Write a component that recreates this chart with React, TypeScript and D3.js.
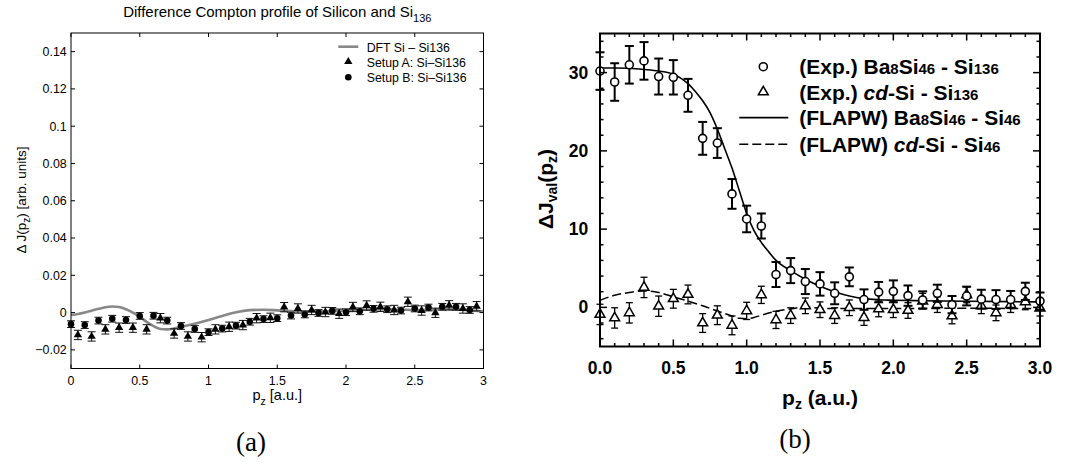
import React from 'react';
import * as d3 from 'd3';

// ---------- Panel (a) data ----------
const aTitle = 'Difference Compton profile of Silicon and Si';
const aXTicks = [0, 0.5, 1, 1.5, 2, 2.5, 3];
const aXTickLabels = ['0', '0.5', '1', '1.5', '2', '2.5', '3'];
const aYTicks = [-0.02, 0, 0.02, 0.04, 0.06, 0.08, 0.1, 0.12, 0.14];
const aYTickLabels = ['\u22120.02', '0', '0.02', '0.04', '0.06', '0.08', '0.1', '0.12', '0.14'];

const aSetupBP = [0, 0.1, 0.2, 0.3, 0.4, 0.5, 0.6, 0.7, 0.8, 0.9, 1.0, 1.1, 1.2, 1.3, 1.4, 1.5, 1.6, 1.7, 1.8, 1.9, 2.0, 2.1, 2.2, 2.3, 2.4, 2.5, 2.6, 2.7, 2.8, 2.9];
const aSetupBV = [-0.0062, -0.0067, -0.0043, -0.0033, -0.004, -0.0018, -0.0017, -0.0043, -0.0072, -0.0088, -0.0105, -0.0086, -0.007, -0.0049, -0.0035, -0.003, -0.0016, -0.001, -0.0002, 0.0009, 0.0002, 0.0007, 0.002, 0.0018, 0.0011, 0.0022, 0.0027, 0.0031, 0.0031, 0.0014];
const aSetupBErr = 0.0018;

const aSetupAP = [0.05, 0.15, 0.25, 0.35, 0.45, 0.55, 0.65, 0.75, 0.85, 0.95, 1.05, 1.15, 1.25, 1.35, 1.45, 1.55, 1.65, 1.75, 1.85, 1.95, 2.05, 2.15, 2.25, 2.35, 2.45, 2.55, 2.65, 2.75, 2.85, 2.95];
const aSetupAV = [-0.012, -0.0128, -0.009, -0.0081, -0.0081, -0.009, -0.003, -0.0112, -0.0128, -0.0132, -0.009, -0.0076, -0.0067, -0.003, -0.0028, 0.0029, 0.0022, 0.0014, 0.0003, -0.0006, 0.003, 0.0038, 0.0031, 0.0014, 0.0058, 0.0011, -0.0001, 0.0039, 0.0022, 0.0034];
const aSetupAErr = 0.0025;

const aDftP = [0, 0.05, 0.1, 0.15, 0.2, 0.25, 0.3, 0.35, 0.4, 0.45, 0.5, 0.55, 0.6, 0.65, 0.7, 0.75, 0.8, 0.9, 1.0, 1.1, 1.2, 1.3, 1.4, 1.5, 1.6, 1.7, 1.8, 1.9, 2.0, 2.1, 2.2, 2.3, 2.4, 2.5, 2.6, 2.7, 2.8, 2.9, 3.0];
const aDftV = [-0.0013, -0.0008, 0.0, 0.001, 0.002, 0.0029, 0.0033, 0.003, 0.0018, 0.0, -0.0022, -0.005, -0.0073, -0.0088, -0.009, -0.0085, -0.0077, -0.006, -0.004, -0.0018, 0.0002, 0.0013, 0.0015, 0.0012, 0.0008, 0.0006, 0.0007, 0.0008, 0.0011, 0.0014, 0.0017, 0.0018, 0.0016, 0.0014, 0.0015, 0.0018, 0.0017, 0.0012, 0.0006];

// ---------- Panel (b) data ----------
const bXTicks = [0, 0.5, 1, 1.5, 2, 2.5, 3];
const bXTickLabels = ['0.0', '0.5', '1.0', '1.5', '2.0', '2.5', '3.0'];
const bYTicks = [0, 10, 20, 30];
const bYTickLabels = ['0', '10', '20', '30'];

const bP = [0, 0.1, 0.2, 0.3, 0.4, 0.5, 0.6, 0.7, 0.8, 0.9, 1.0, 1.1, 1.2, 1.3, 1.4, 1.5, 1.6, 1.7, 1.8, 1.9, 2.0, 2.1, 2.2, 2.3, 2.4, 2.5, 2.6, 2.7, 2.8, 2.9, 3.0];
const bBaV = [30.2, 28.8, 31.0, 31.5, 29.5, 29.4, 27.1, 21.6, 21.0, 14.5, 11.3, 10.4, 4.2, 4.7, 3.3, 3.0, 1.8, 3.9, 1.0, 1.95, 2.05, 1.5, 0.95, 1.8, 0.35, 1.45, 1.05, 1.0, 1.0, 2.05, 0.8];
const bBaErr = [2.4, 2.4, 2.4, 2.4, 2.3, 2.2, 2.1, 2.1, 1.9, 1.9, 1.7, 1.6, 1.6, 1.6, 1.6, 1.5, 1.4, 1.2, 1.3, 1.3, 1.4, 1.3, 1.1, 1.1, 1.1, 1.2, 1.2, 1.2, 1.1, 1.1, 1.1];
const bCdV = [-0.9, -1.35, -0.7, 2.55, 0.15, 1.1, 1.65, -2.0, -1.0, -2.3, -0.45, 1.6, -1.6, -1.05, 0.2, -0.3, -1.05, -0.05, -1.3, -0.2, -0.3, -0.4, 0.8, 0.35, -1.1, 1.6, 0.2, -0.7, 0.35, 0.7, -0.1];
const bCdErr = [1.3, 1.3, 1.3, 1.3, 1.3, 1.2, 1.2, 1.2, 1.2, 1.2, 1.1, 1.1, 1.1, 1.0, 1.0, 1.0, 1.0, 1.0, 1.0, 1.0, 1.0, 1.0, 1.0, 1.0, 1.0, 1.0, 1.0, 1.0, 1.0, 1.0, 1.0];

const bBaFlapwP = [0, 0.1, 0.2, 0.3, 0.4, 0.5, 0.55, 0.6, 0.65, 0.7, 0.75, 0.8, 0.85, 0.9, 0.95, 1.0, 1.05, 1.1, 1.15, 1.2, 1.3, 1.4, 1.5, 1.6, 1.7, 1.8, 1.9, 2.0, 2.2, 2.5, 2.8, 3.0];
const bBaFlapwV = [30.6, 30.6, 30.55, 30.4, 30.2, 29.8, 29.3, 28.6, 27.6, 26.4, 24.9, 22.8, 20.3, 17.8, 14.9, 12.0, 9.8, 8.3, 7.1, 6.0, 4.7, 3.6, 2.7, 2.0, 1.45, 1.12, 0.98, 0.92, 0.85, 0.78, 0.73, 0.7];
const bCdFlapwP = [0, 0.1, 0.2, 0.3, 0.4, 0.5, 0.6, 0.7, 0.8, 0.9, 0.95, 1.0, 1.05, 1.1, 1.2, 1.3, 1.4, 1.5, 1.6, 1.8, 2.0, 2.5, 3.0];
const bCdFlapwV = [0.9, 1.55, 1.9, 2.1, 1.9, 1.35, 0.8, 0.2, -0.47, -1.1, -1.4, -1.45, -1.3, -1.0, -0.5, -0.2, 0.05, -0.1, -0.15, -0.15, -0.15, -0.12, -0.15];

const SANS = 'Liberation Sans, Arial, Helvetica, sans-serif';
const SERIF = 'Liberation Serif, Times New Roman, serif';

const A = { left: 71, right: 483.5, top: 33, bottom: 368.5 };
const B = { left: 600, right: 1040, top: 33.5, bottom: 346.5 };

export default function App() {
  const ax = d3.scaleLinear().domain([0, 3]).range([A.left, A.right]);
  const ay = d3.scaleLinear().domain([-0.03, 0.15]).range([A.bottom, A.top]);
  const bx = d3.scaleLinear().domain([0, 3]).range([B.left, B.right]);
  const by = d3.scaleLinear().domain([-5, 35]).range([B.bottom, B.top]);

  const aLine = d3.line<number>().x((_, i) => ax(aDftP[i])).y((d) => ay(d)).curve(d3.curveMonotoneX);
  const bBaLine = d3.line<number>().x((_, i) => bx(bBaFlapwP[i])).y((d) => by(d)).curve(d3.curveMonotoneX);
  const bCdLine = d3.line<number>().x((_, i) => bx(bCdFlapwP[i])).y((d) => by(d)).curve(d3.curveMonotoneX);

  const triA = d3.symbol().type(d3.symbolTriangle).size(30)() as string;
  const cirA = d3.symbol().type(d3.symbolCircle).size(34)() as string;
  const triB = d3.symbol().type(d3.symbolTriangle).size(42)() as string;

  const bXMinor = d3.range(0, 3.0001, 0.1);
  const bYMinor = d3.range(-4, 35, 2);

  const legA = { lx1: 338.3, lx2: 358.3, mx: 348.3, tx: 366.7, rows: [46.7, 61.7, 77.3] };
  const legB = { x: 799.3, mx: 763.3, lx1: 739.3, lx2: 788.3, rows: [66.7, 92, 117.7, 144.3] };

  return (
    <svg width={1077} height={465} style={{ position: 'absolute', left: 0, top: 0, background: '#fff' }} fontFamily={SANS}>
      <rect x={0} y={0} width={1077} height={465} fill="#fff" />
      {/* ================= Panel (a) ================= */}
      <text x={(A.left + A.right) / 2} y={16.7} textAnchor="middle" fontSize={15}>
        {aTitle}
        <tspan fontSize={11} dy={5}>136</tspan>
      </text>
      <path d={aLine(aDftV) || ''} fill="none" stroke="#888" strokeWidth={2.6} />
      {aSetupAV.map((v, i) => {
        const x = ax(aSetupAP[i]);
        return (
          <g key={'ea' + i} stroke="#111" strokeWidth={1}>
            <line x1={x} x2={x} y1={ay(v - aSetupAErr)} y2={ay(v + aSetupAErr)} />
            <line x1={x - 4} x2={x + 4} y1={ay(v - aSetupAErr)} y2={ay(v - aSetupAErr)} />
            <line x1={x - 4} x2={x + 4} y1={ay(v + aSetupAErr)} y2={ay(v + aSetupAErr)} />
          </g>
        );
      })}
      {aSetupBV.map((v, i) => {
        const x = ax(aSetupBP[i]);
        return (
          <g key={'eb' + i} stroke="#111" strokeWidth={1}>
            <line x1={x} x2={x} y1={ay(v - aSetupBErr)} y2={ay(v + aSetupBErr)} />
            <line x1={x - 4} x2={x + 4} y1={ay(v - aSetupBErr)} y2={ay(v - aSetupBErr)} />
            <line x1={x - 4} x2={x + 4} y1={ay(v + aSetupBErr)} y2={ay(v + aSetupBErr)} />
          </g>
        );
      })}
      {aSetupAV.map((v, i) => (
        <path key={'ta' + i} d={triA} transform={`translate(${ax(aSetupAP[i])},${ay(v)})`} fill="#000" />
      ))}
      {aSetupBV.map((v, i) => (
        <path key={'cb' + i} d={cirA} transform={`translate(${ax(aSetupBP[i])},${ay(v)})`} fill="#000" />
      ))}
      <rect x={A.left} y={A.top} width={A.right - A.left} height={A.bottom - A.top} fill="none" stroke="#000" strokeWidth={1} />
      {aXTicks.map((t) => (
        <g key={'axt' + t} stroke="#000" strokeWidth={1}>
          <line x1={ax(t)} x2={ax(t)} y1={A.bottom} y2={A.bottom - 4} />
          <line x1={ax(t)} x2={ax(t)} y1={A.top} y2={A.top + 4} />
        </g>
      ))}
      {aYTicks.map((t) => (
        <g key={'ayt' + t} stroke="#000" strokeWidth={1}>
          <line x1={A.left} x2={A.left + 4} y1={ay(t)} y2={ay(t)} />
          <line x1={A.right} x2={A.right - 4} y1={ay(t)} y2={ay(t)} />
        </g>
      ))}
      {aXTicks.map((t, i) => (
        <text key={'axl' + t} x={ax(t)} y={385} textAnchor="middle" fontSize={12.4}>{aXTickLabels[i]}</text>
      ))}
      {aYTicks.map((t, i) => (
        <text key={'ayl' + t} x={66.7} y={ay(t) + 4.4} textAnchor="end" fontSize={12.4}>{aYTickLabels[i]}</text>
      ))}
      <text x={(A.left + A.right) / 2} y={400} textAnchor="middle" fontSize={14.5}>
        p<tspan fontSize={10.5} dy={5}>z</tspan><tspan dy={-5}> [a.u.]</tspan>
      </text>
      <text transform="translate(26,200) rotate(-90)" textAnchor="middle" fontSize={13.5}>
        {'\u0394 J(p'}<tspan fontSize={10} dy={4}>z</tspan><tspan dy={-4}>) [arb. units]</tspan>
      </text>
      {/* legend (a) */}
      <line x1={legA.lx1} x2={legA.lx2} y1={legA.rows[0]} y2={legA.rows[0]} stroke="#888" strokeWidth={2.6} />
      <text x={legA.tx} y={legA.rows[0] + 4.8} fontSize={12.3}>DFT Si – Si136</text>
      <path d={triA} transform={`translate(${legA.mx},${legA.rows[1]})`} fill="#000" />
      <text x={legA.tx} y={legA.rows[1] + 4.8} fontSize={12.3}>Setup A: Si–Si136</text>
      <path d={cirA} transform={`translate(${legA.mx},${legA.rows[2]})`} fill="#000" />
      <text x={legA.tx} y={legA.rows[2] + 4.8} fontSize={12.3}>Setup B: Si–Si136</text>
      <text x={251} y={451} textAnchor="middle" fontSize={27} fontFamily={SERIF}>(a)</text>

      {/* ================= Panel (b) ================= */}
      <path d={bBaLine(bBaFlapwV) || ''} fill="none" stroke="#000" strokeWidth={1.6} />
      <path d={bCdLine(bCdFlapwV) || ''} fill="none" stroke="#000" strokeWidth={1.5} strokeDasharray="9,4" />
      {bCdV.map((v, i) => {
        const x = bx(bP[i]);
        const e = bCdErr[i];
        return (
          <g key={'ecd' + i} stroke="#000" strokeWidth={1.3}>
            <line x1={x} x2={x} y1={by(v - e)} y2={by(v + e)} />
            <line x1={x - 3.5} x2={x + 3.5} y1={by(v - e)} y2={by(v - e)} />
            <line x1={x - 3.5} x2={x + 3.5} y1={by(v + e)} y2={by(v + e)} />
          </g>
        );
      })}
      {bCdV.map((v, i) => (
        <path key={'tcd' + i} d={triB} transform={`translate(${bx(bP[i])},${by(v)})`} fill="#fff" stroke="#000" strokeWidth={1.5} />
      ))}
      {bBaV.map((v, i) => {
        const x = bx(bP[i]);
        const e = bBaErr[i];
        return (
          <g key={'eba' + i} stroke="#000" strokeWidth={2}>
            <line x1={x} x2={x} y1={by(v - e)} y2={by(v + e)} />
            <line x1={x - 4.5} x2={x + 4.5} y1={by(v - e)} y2={by(v - e)} />
            <line x1={x - 4.5} x2={x + 4.5} y1={by(v + e)} y2={by(v + e)} />
          </g>
        );
      })}
      {bBaV.map((v, i) => (
        <circle key={'cba' + i} cx={bx(bP[i])} cy={by(v)} r={4} fill="#fff" stroke="#000" strokeWidth={1.6} />
      ))}
      <rect x={B.left} y={B.top} width={B.right - B.left} height={B.bottom - B.top} fill="none" stroke="#000" strokeWidth={2} />
      {bXMinor.map((t, i) => {
        const L = i % 5 === 0 ? 7 : 3.5;
        return (
          <g key={'bxm' + i} stroke="#000" strokeWidth={1.5}>
            <line x1={bx(t)} x2={bx(t)} y1={B.bottom} y2={B.bottom - L} />
            <line x1={bx(t)} x2={bx(t)} y1={B.top} y2={B.top + L} />
          </g>
        );
      })}
      {bYMinor.map((t) => {
        const L = t % 10 === 0 ? 7 : 3.5;
        return (
          <g key={'bym' + t} stroke="#000" strokeWidth={1.5}>
            <line x1={B.left} x2={B.left + L} y1={by(t)} y2={by(t)} />
            <line x1={B.right} x2={B.right - L} y1={by(t)} y2={by(t)} />
          </g>
        );
      })}
      {bXTicks.map((t, i) => (
        <text key={'bxl' + t} x={bx(t)} y={373.5} textAnchor="middle" fontSize={17.5} fontWeight="bold">{bXTickLabels[i]}</text>
      ))}
      {bYTicks.map((t, i) => (
        <text key={'byl' + t} x={588.3} y={by(t) + 6} textAnchor="end" fontSize={17.5} fontWeight="bold">{bYTickLabels[i]}</text>
      ))}
      <text x={(B.left + B.right) / 2} y={405} textAnchor="middle" fontSize={21} fontWeight="bold">
        p<tspan fontSize={14} dy={4}>z</tspan><tspan dy={-4}> (a.u.)</tspan>
      </text>
      <text transform="translate(553,189) rotate(-90)" textAnchor="middle" fontSize={21} fontWeight="bold">
        {'\u0394J'}<tspan fontSize={14} dy={4}>val</tspan><tspan dy={-4}>(p</tspan><tspan fontSize={14} dy={4}>z</tspan><tspan dy={-4}>)</tspan>
      </text>
      {/* legend (b) */}
      <circle cx={legB.mx} cy={legB.rows[0]} r={4} fill="#fff" stroke="#000" strokeWidth={1.6} />
      <path d={triB} transform={`translate(${legB.mx},${legB.rows[1]})`} fill="#fff" stroke="#000" strokeWidth={1.5} />
      <line x1={legB.lx1} x2={legB.lx2} y1={legB.rows[2]} y2={legB.rows[2]} stroke="#000" strokeWidth={1.8} />
      <line x1={legB.lx1} x2={legB.lx2} y1={legB.rows[3]} y2={legB.rows[3]} stroke="#000" strokeWidth={1.6} strokeDasharray="9,4" />
      <g fontSize={21} fontWeight="bold">
        <text x={legB.x} y={legB.rows[0] + 7.5}>
          (Exp.) Ba<tspan fontSize={15}>8</tspan>Si<tspan fontSize={15}>46</tspan> - Si<tspan fontSize={15}>136</tspan>
        </text>
        <text x={legB.x} y={legB.rows[1] + 7.5}>
          (Exp.) <tspan fontStyle="italic">cd</tspan>-Si - Si<tspan fontSize={15}>136</tspan>
        </text>
        <text x={legB.x} y={legB.rows[2] + 7.5}>
          (FLAPW) Ba<tspan fontSize={15}>8</tspan>Si<tspan fontSize={15}>46</tspan> - Si<tspan fontSize={15}>46</tspan>
        </text>
        <text x={legB.x} y={legB.rows[3] + 7.5}>
          (FLAPW) <tspan fontStyle="italic">cd</tspan>-Si - Si<tspan fontSize={15}>46</tspan>
        </text>
      </g>
      <text x={795} y={448} textAnchor="middle" fontSize={27} fontFamily={SERIF}>(b)</text>
    </svg>
  );
}
